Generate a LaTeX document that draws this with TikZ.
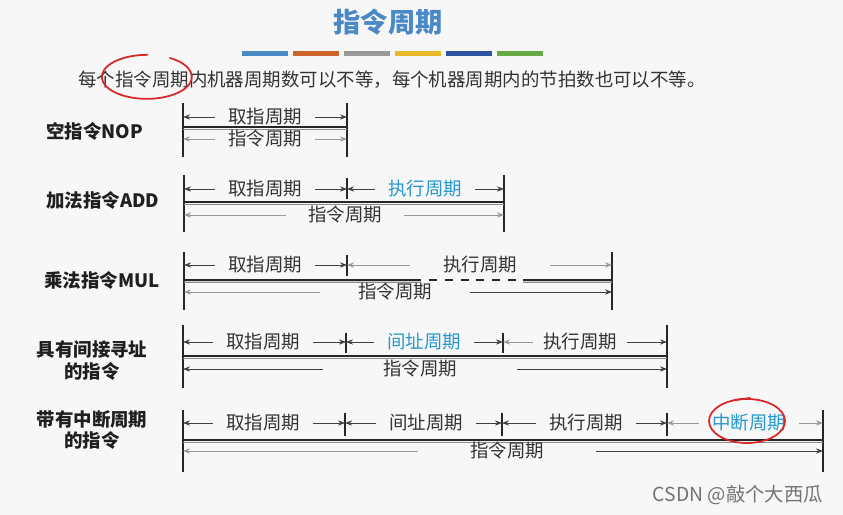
\documentclass[tikz,border=0pt]{standalone}
\usepackage{fontspec}
\setmainfont{Noto Sans CJK SC}
\usetikzlibrary{arrows.meta}
\definecolor{titleblue}{RGB}{74,136,198}
\definecolor{cycblue}{RGB}{38,152,206}
\definecolor{barA}{RGB}{72,138,198}
\definecolor{barB}{RGB}{204,102,42}
\definecolor{barC}{RGB}{152,152,152}
\definecolor{barD}{RGB}{232,186,40}
\definecolor{barE}{RGB}{44,84,162}
\definecolor{barF}{RGB}{102,172,70}
\definecolor{inkred}{RGB}{214,40,40}
\begin{document}
\begin{tikzpicture}[x=0.2mm, y=-0.2mm,
  every node/.style={font=\fontsize{10.5}{12.5}\selectfont, text=black!80},
  lab/.style={font=\fontsize{10.5}{12.5}\selectfont\bfseries, text=black!88, align=center},
  cyc/.style={inner xsep=2.6mm, inner ysep=1pt},
  hi/.style={text=cycblue},
  edge/.style={line width=1.2pt, black!85},
  sep/.style={line width=0.8pt, black!85},
  bar/.style={line width=1.4pt, black!85},
  under/.style={line width=0.7pt, black!45},
  dim/.style={-{Stealth[length=4pt,width=3pt]}, line width=0.55pt, black!75},
  dimlt/.style={dim, black!40},
  ink/.style={draw=inkred, line width=1pt, line cap=round}]
\fill[black!3] (0,0) rectangle (843,515);
\useasboundingbox (0,0) rectangle (843,515);
% heading
\node[font=\fontsize{15.5}{18}\selectfont\bfseries, text=titleblue] (title) at (388,22) {指令周期};
\foreach \c [count=\i] in {barA,barB,barC,barD,barE,barF}
  \fill[\c] ({242+51*(\i-1)},51) rectangle ++(46,5);
\node[anchor=west, inner sep=0pt] (note) at (78,80) {每个指令周期内机器周期数可以不等，每个机器周期内的节拍数也可以不等。};
\draw[ink] (170,58) arc[start angle=-59, end angle=271, x radius=45, y radius=22];
% row labels
\node[lab, anchor=west] (nop) at (40,131) {空指令NOP};
\node[lab, anchor=west] (add) at (40,200) {加法指令ADD};
\node[lab, anchor=west] (mul) at (38,280) {乘法指令MUL};
\node[lab] (ind) at (92,361) {具有间接寻址\\的指令};
\node[lab] (irq) at (92,430) {带有中断周期\\的指令};
% NOP
\coordinate (L1) at (183,127); \coordinate (R1) at (347,127);
\foreach \p in {L1,R1} \draw[edge] (\p) ++(0,-24) -- ++(0,54);
\draw[bar] (L1) -- (R1);
\draw[under] ([yshift=-0.45mm]L1) -- ([yshift=-0.45mm]R1);
\node[cyc] (f1) at (265,117) {取指周期};
\draw[dim] (f1.west) -- (f1.west -| L1);
\draw[dim] (f1.east) -- (f1.east -| R1);
\node[cyc] (i1) at (265,139) {指令周期};
\draw[dimlt] (i1.west) -- (i1.west -| L1);
\draw[dimlt] (i1.east) -- (i1.east -| R1);
% ADD
\coordinate (L2) at (184,202); \coordinate (M2) at (347,202); \coordinate (R2) at (504,202);
\foreach \p in {L2,R2} \draw[edge] (\p) ++(0,-27) -- ++(0,57);
\draw[sep] (M2) ++(0,-24) -- ++(0,21);
\draw[bar] (L2) -- (R2);
\draw[under] ([yshift=-0.45mm]L2) -- ([yshift=-0.45mm]R2);
\node[cyc] (f2) at (265,189) {取指周期};
\draw[dim] (f2.west) -- (f2.west -| L2);
\draw[dim] (f2.east) -- (f2.east -| M2);
\node[cyc, hi] (e2) at (425,189) {执行周期};
\draw[dim] (e2.west) -- (e2.west -| M2);
\draw[dim] (e2.east) -- (e2.east -| R2);
\node[cyc, inner xsep=4.4mm] (i2) at (345,215) {指令周期};
\draw[dimlt] (i2.west) -- (i2.west -| L2);
\draw[dimlt] (i2.east) -- (i2.east -| R2);
% MUL
\coordinate (L3) at (184,280); \coordinate (M3) at (347,280); \coordinate (R3) at (612,280);
\foreach \p in {L3,R3} \draw[edge] (\p) ++(0,-28) -- ++(0,58);
\draw[sep] (M3) ++(0,-25) -- ++(0,21);
\draw[bar] (L3) -- (421,280);
\draw[bar, dash pattern=on 4.5pt off 4.5pt] (429,280) -- (518,280);
\draw[bar] (523,280) -- (R3);
\draw[under] ([yshift=-0.45mm]L3) -- (421,282.25);
\draw[under] (523,282.25) -- ([yshift=-0.45mm]R3);
\node[cyc] (f3) at (265,265) {取指周期};
\draw[dim] (f3.west) -- (f3.west -| L3);
\draw[dim] (f3.east) -- (f3.east -| M3);
\node[cyc, inner xsep=6.6mm] (e3) at (480,265) {执行周期};
\draw[dimlt] (e3.west) -- (e3.west -| M3);
\draw[dimlt] (e3.east) -- (e3.east -| R3);
\node[cyc, inner xsep=7.6mm] (i3) at (395,292) {指令周期};
\draw[dimlt] (i3.west) -- (i3.west -| L3);
\draw[dim] (i3.east) -- (i3.east -| R3);
% indirect addressing
\coordinate (L4) at (183,356); \coordinate (M4) at (346,356); \coordinate (N4) at (503,356); \coordinate (R4) at (667,356);
\foreach \p in {L4,R4} \draw[edge] (\p) ++(0,-31) -- ++(0,63);
\foreach \p in {M4,N4} \draw[sep] (\p) ++(0,-23) -- ++(0,20);
\draw[bar] (L4) -- (R4);
\draw[under] ([yshift=-0.45mm]L4) -- ([yshift=-0.45mm]R4);
\node[cyc] (f4) at (263,342) {取指周期};
\draw[dim] (f4.west) -- (f4.west -| L4);
\draw[dim] (f4.east) -- (f4.east -| M4);
\node[cyc, hi] (a4) at (424,342) {间址周期};
\draw[dim] (a4.west) -- (a4.west -| M4);
\draw[dim] (a4.east) -- (a4.east -| N4);
\node[cyc, inner xsep=2mm] (e4) at (580,342) {执行周期};
\draw[dimlt] (e4.west) -- (e4.west -| N4);
\draw[dim] (e4.east) -- (e4.east -| R4);
\node[cyc, inner xsep=12mm] (i4) at (420,369) {指令周期};
\draw[dim] (i4.west) -- (i4.west -| L4);
\draw[dim] (i4.east) -- (i4.east -| R4);
% interrupt
\coordinate (L5) at (183,440); \coordinate (M5) at (345,440); \coordinate (N5) at (502,440);
\coordinate (P5) at (667,440); \coordinate (R5) at (823,440);
\foreach \p in {L5,R5} \draw[edge] (\p) ++(0,-30) -- ++(0,62);
\foreach \p in {M5,N5,P5} \draw[sep] (\p) ++(0,-27) -- ++(0,23);
\draw[bar] (L5) -- (R5);
\draw[under] ([yshift=-0.45mm]L5) -- ([yshift=-0.45mm]R5);
\node[cyc] (f5) at (263,423) {取指周期};
\draw[dim] (f5.west) -- (f5.west -| L5);
\draw[dim] (f5.east) -- (f5.east -| M5);
\node[cyc] (a5) at (426,423) {间址周期};
\draw[dim] (a5.west) -- (a5.west -| M5);
\draw[dim] (a5.east) -- (a5.east -| N5);
\node[cyc] (e5) at (586,423) {执行周期};
\draw[dim] (e5.west) -- (e5.west -| N5);
\draw[dim] (e5.east) -- (e5.east -| P5);
\node[cyc, hi] (n5) at (749,423) {中断周期};
\draw[dimlt] (n5.west) -- (n5.west -| P5);
\draw[dimlt] (n5.east) -- (n5.east -| R5);
\node[cyc, inner xsep=10.4mm] (i5) at (507,451) {指令周期};
\draw[dimlt] (i5.west) -- (i5.west -| L5);
\draw[dim] (i5.east) -- (i5.east -| R5);
\draw[ink] (n5.center) ++(-2,-2) ellipse [x radius=38, y radius=22];
\draw[ink] (734,400) -- (750,398);
% watermark
\node[font=\fontsize{11}{13}\selectfont, text=black!55, anchor=east] (wm) at (829,495) {CSDN @敲个大西瓜};
\end{tikzpicture}
\end{document}
